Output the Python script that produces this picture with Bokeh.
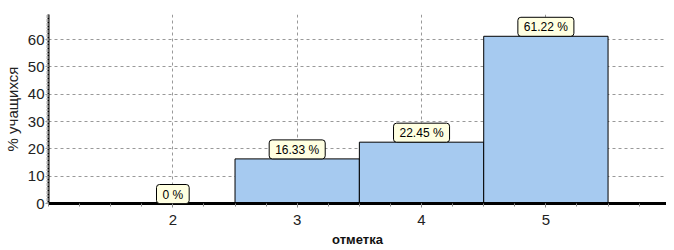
from bokeh.plotting import figure
from bokeh.models import Range1d, FixedTicker, Label, ColumnDataSource
from bokeh.embed import file_html
from bokeh.resources import INLINE

grades = [2, 3, 4, 5]
percents = [0.0, 16.33, 22.45, 61.22]
bar_labels = ["0 %", "16.33 %", "22.45 %", "61.22 %"]
y_ticks = [0, 10, 20, 30, 40, 50, 60]
y_minor = [v / 2 for v in range(0, 139)]
x_minor = [1 + 0.25 * i for i in range(0, 20)]

FONT = "Liberation Sans"

p = figure(width=666, height=249, output_backend="svg", toolbar_location=None,
           x_range=Range1d(1.0, 5.97), y_range=Range1d(0, 69.2),
           min_border_left=45, min_border_right=0, min_border_top=14,
           min_border_bottom=46)
p.outline_line_color = None
p.background_fill_color = "white"
p.border_fill_color = "white"

src = ColumnDataSource(dict(x=grades, top=percents))
p.vbar(x="x", top="top", bottom=0, width=1.0, source=src,
       fill_color="#A6CAF0", line_color="black", line_width=1)

for g, v, t in zip(grades, percents, bar_labels):
    shadow = Label(x=g, y=v, x_offset=3, y_offset=-3, text=t,
                   text_align="center", text_baseline="bottom",
                   text_font=FONT, text_font_size="12px", text_alpha=0.0,
                   background_fill_color="#808080", background_fill_alpha=0.9,
                   border_line_color=None,
                   padding=dict(left=6, right=6, top=3, bottom=2), border_radius=3)
    box = Label(x=g, y=v, text=t,
                text_align="center", text_baseline="bottom",
                text_font=FONT, text_font_size="12px", text_color="black",
                background_fill_color="#FFFFE1", border_line_color="black",
                border_line_width=1,
                padding=dict(left=6, right=6, top=3, bottom=2), border_radius=3)
    p.add_layout(shadow)
    p.add_layout(box)

# x axis
p.xaxis.ticker = FixedTicker(ticks=grades, minor_ticks=x_minor)
p.xaxis.axis_label = "отметка"
p.xaxis.axis_label_text_font = FONT
p.xaxis.axis_label_text_font_size = "13px"
p.xaxis.axis_label_text_font_style = "bold"
p.xaxis.axis_label_text_color = "#111111"
p.xaxis.axis_label_standoff = 4
p.xaxis.axis_line_width = 3
p.xaxis.axis_line_color = "black"
p.xaxis.major_tick_in = 0
p.xaxis.major_tick_out = 4
p.xaxis.major_tick_line_color = "#888888"
p.xaxis.minor_tick_in = 0
p.xaxis.minor_tick_out = 3
p.xaxis.minor_tick_line_color = "#888888"
p.xaxis.major_label_text_font = FONT
p.xaxis.major_label_text_font_size = "15px"
p.xaxis.major_label_text_color = "#222222"
p.xaxis.major_label_standoff = 7

# y axis
p.yaxis.ticker = FixedTicker(ticks=y_ticks, minor_ticks=y_minor)
p.yaxis.axis_label = "% учащихся"
p.yaxis.axis_label_text_font = FONT
p.yaxis.axis_label_text_font_size = "15px"
p.yaxis.axis_label_text_font_style = "normal"
p.yaxis.axis_label_text_color = "#222222"
p.yaxis.axis_label_standoff = 4
p.yaxis.axis_line_width = 2
p.yaxis.axis_line_color = "black"
p.yaxis.major_tick_in = 0
p.yaxis.major_tick_out = 3
p.yaxis.major_tick_line_color = "#888888"
p.yaxis.minor_tick_in = 0
p.yaxis.minor_tick_out = 2
p.yaxis.minor_tick_line_color = "#aaaaaa"
p.yaxis.major_label_text_font = FONT
p.yaxis.major_label_text_font_size = "15px"
p.yaxis.major_label_text_color = "#222222"
p.yaxis.major_label_standoff = 1

p.xgrid.grid_line_color = "#999999"
p.xgrid.grid_line_dash = "3 3"
p.ygrid.grid_line_color = "#999999"
p.ygrid.grid_line_dash = "3 3"

open("out.html", "w").write(file_html(p, INLINE))
